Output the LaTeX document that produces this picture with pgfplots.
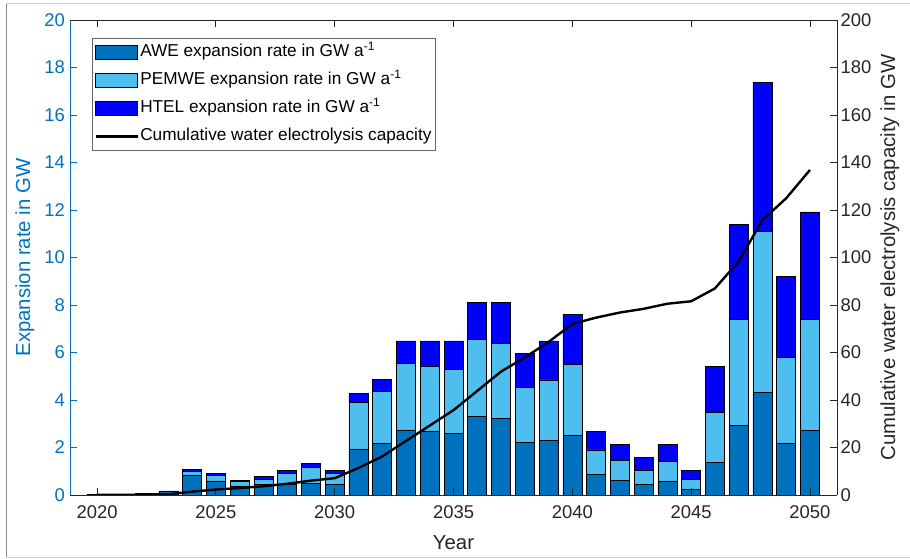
\documentclass[border=0pt]{standalone}
\usepackage{fontspec}
\setmainfont{Liberation Sans}
\usepackage{pgfplots}
\usepackage{pgfplotstable}
\pgfplotsset{compat=1.18}
\definecolor{awe}{RGB}{0,114,189}
\definecolor{pem}{RGB}{77,190,238}
\definecolor{htel}{RGB}{0,0,255}
\definecolor{axgray}{RGB}{38,38,38}
\pgfplotsset{
  barlegend/.style={legend image code/.code={\draw[##1] (0bp,-7bp) rectangle (42bp,7bp);}},
  linelegend/.style={legend image code/.code={\draw[##1] (0bp,0bp) -- (42bp,0bp);}},
}
\pgfplotstableread{
year awe pem htel cum
2020 0.04 0 0 0.04
2021 0.03 0 0 0.07
2022 0.08 0 0 0.15
2023 0.17 0 0 0.32
2024 0.81 0.17 0.10 1.40
2025 0.59 0.24 0.08 2.31
2026 0.38 0.20 0.02 2.91
2027 0.45 0.21 0.11 3.68
2028 0.45 0.46 0.13 4.72
2029 0.50 0.67 0.15 6.04
2030 0.46 0.44 0.14 7.08
2031 1.94 1.97 0.38 11.37
2032 2.18 2.19 0.51 16.25
2033 2.74 2.81 0.94 22.74
2034 2.70 2.72 1.07 29.23
2035 2.61 2.69 1.19 35.72
2036 3.32 3.24 1.56 43.84
2037 3.23 3.16 1.73 51.96
2038 2.22 2.32 1.42 57.92
2039 2.31 2.54 1.64 64.41
2040 2.53 2.98 2.09 72.01
2041 0.86 1.04 0.77 74.68
2042 0.63 0.82 0.69 76.82
2043 0.45 0.60 0.52 78.39
2044 0.59 0.81 0.74 80.53
2045 0.24 0.42 0.37 81.56
2046 1.38 2.10 1.92 86.96
2047 2.92 4.47 4.01 98.36
2048 4.33 6.77 6.28 115.74
2049 2.18 3.60 3.41 124.93
2050 2.71 4.68 4.53 136.85
}\datatable
\begin{document}
\begin{tikzpicture}[x=1bp,y=1bp]
\useasboundingbox (0,0) rectangle (910,559);
\draw[black!45, line width=0.8bp] (6,2) -- (6,556);
\draw[black!20, line width=0.8bp] (6,556) -- (910,556);
\draw[black!20, line width=0.8bp] (6,2) -- (910,2);
\begin{axis}[
  at={(70bp,64bp)}, anchor=south west,
  scale only axis, width=767bp, height=475bp,
  xmin=2018.86, xmax=2051.14, ymin=0, ymax=20,
  enlargelimits=false,
  axis x line=none, axis y line=left,
  y axis line style={-, draw=awe, line width=0.8bp},
  ytick={0,2,...,20}, ytick pos=left,
  tick align=inside, major tick length=7bp,
  ytick style={draw=awe, line width=0.8bp},
  /pgf/number format/assume math mode=true,
  yticklabel style={text=awe, font=\fontsize{18.5}{20}\selectfont, xshift=-1.5bp},
  ylabel={Expansion rate in GW},
  ylabel style={text=awe, font=\fontsize{20.4}{24}\selectfont, at={(axis description cs:-0.0587,0.5)}, anchor=center},
  ybar stacked, bar width=0.8,
]
\addplot[fill=awe, draw=black, line width=0.6bp] table[x=year,y=awe]{\datatable};
\addplot[fill=pem, draw=black, line width=0.6bp] table[x=year,y=pem]{\datatable};
\addplot[fill=htel, draw=black, line width=0.6bp] table[x=year,y=htel]{\datatable};
\end{axis}
\begin{axis}[
  at={(70bp,64bp)}, anchor=south west,
  scale only axis, width=767bp, height=475bp,
  xmin=2018.86, xmax=2051.14, ymin=0, ymax=200,
  enlargelimits=false,
  axis x line=box, axis y line=right,
  x axis line style={-, draw=axgray, line width=0.8bp},
  y axis line style={-, draw=axgray, line width=0.8bp},
  xtick={2020,2025,...,2050}, xtick pos=both,
  ytick={0,20,...,200}, ytick pos=right, yticklabel pos=right,
  tick align=inside, major tick length=7bp,
  tick style={draw=axgray, line width=0.8bp},
  /pgf/number format/assume math mode=true,
  xticklabel style={/pgf/number format/1000 sep={}, text=axgray, font=\fontsize{18.5}{20}\selectfont, yshift=-7bp},
  yticklabel style={text=axgray, font=\fontsize{18.5}{20}\selectfont},
  xlabel={Year},
  xlabel style={text=axgray, font=\fontsize{20.4}{24}\selectfont, at={(axis description cs:0.5,-0.101)}, anchor=center},
  ylabel={Cumulative water electrolysis capacity in GW},
  ylabel style={text=axgray, font=\fontsize{20.4}{24}\selectfont, at={(axis description cs:1.069,0.5)}, anchor=center, rotate=0},
  legend style={at={(axis description cs:0.0287,0.9621)}, anchor=north west,
    draw=black!60, line width=0.7bp, fill=white,
    font=\fontsize{17.3}{20}\selectfont, text=black,
    inner xsep=2bp, inner ysep=0bp, row sep=0bp,
    nodes={inner ysep=5bp, inner xsep=1.5bp, text height=13.5bp, text depth=4.5bp},
    cells={anchor=west}},
  legend cell align=left,
]
\addlegendimage{barlegend, fill=awe, draw=black, line width=0.8bp}
\addlegendentry{AWE expansion rate in GW a\textsuperscript{-1}}
\addlegendimage{barlegend, fill=pem, draw=black, line width=0.8bp}
\addlegendentry{PEMWE expansion rate in GW a\textsuperscript{-1}}
\addlegendimage{barlegend, fill=htel, draw=black, line width=0.8bp}
\addlegendentry{HTEL expansion rate in GW a\textsuperscript{-1}}
\addplot[black, line width=2.4bp, no markers, linelegend] table[x=year,y=cum]{\datatable};
\addlegendentry{Cumulative water electrolysis capacity}
\end{axis}
\end{tikzpicture}
\end{document}
